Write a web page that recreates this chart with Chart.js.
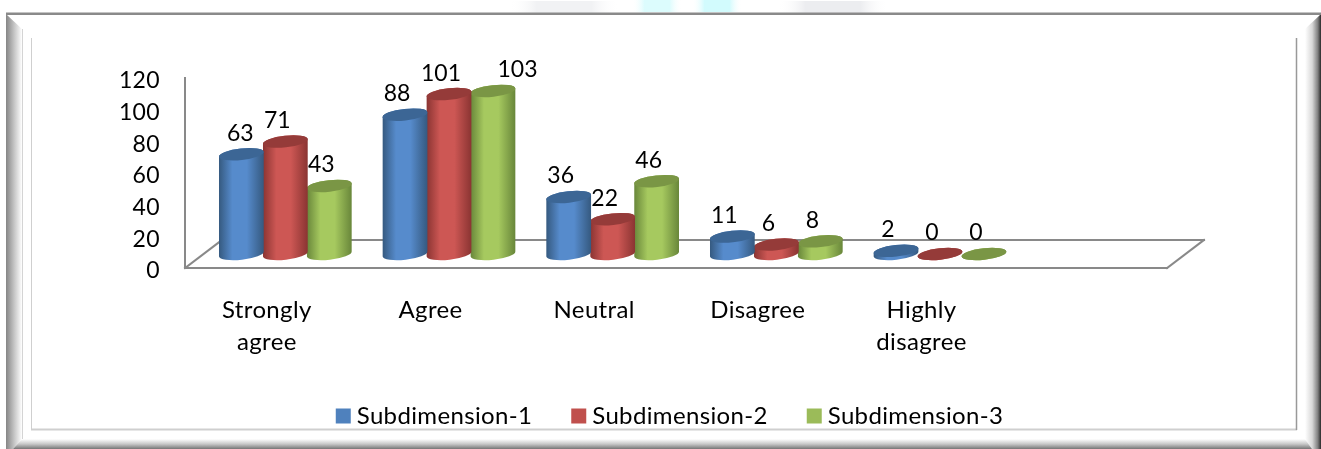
<!DOCTYPE html>
<html>
<head>
<meta charset="utf-8">
<style>
  html, body { margin: 0; padding: 0; background: #fff; }
  canvas { display: block; }
</style>
<script src="https://cdn.jsdelivr.net/npm/chart.js@4"></script>
</head>
<body>
<canvas id="myChart" width="1321" height="449"></canvas>
<script>
const categories = [["Strongly", "agree"], "Agree", "Neutral", "Disagree", ["Highly", "disagree"], ""];
const subdimension1 = [63, 88, 36, 11, 2, null];
const subdimension2 = [71, 101, 22, 6, 0, null];
const subdimension3 = [43, 103, 46, 8, 0, null];

const fontFamily = "Lato, 'Open Sans', sans-serif";
const axisGrey = "#898989";
const textSpacing = "0.35px";

// floor depth of the fake 3D box, bars stand in the middle of it
const depthX = 37;
const depthY = 28;

// side shading and top cap of each cylinder
const shades = {
  "#4f81bd": { edge: "#35597f", mid: "#568bcc", cap: "#3c6695" },
  "#c0504d": { edge: "#8a3432", mid: "#cd5754", cap: "#953b39" },
  "#9bbb59": { edge: "#68863a", mid: "#a6c95f", cap: "#7a9645" }
};

// value labels sit left of their bar, apart from a couple pushed clear by hand
const labelShift = -8;
const labelExtraShift = { "0,0": 7, "2,1": 32.5 };

// bars are drawn as cylinders instead of flat rectangles
Chart.BarElement.prototype.draw = function (ctx) {
  const rx = 22.5, ry = 5.8, tilt = -0.11;
  const cx = this.x + depthX / 2;
  const top = this.y - depthY / 2;
  const bottom = this.base - depthY / 2;
  const shade = shades[this.options.backgroundColor];

  ctx.save();
  const side = ctx.createLinearGradient(cx - rx, 0, cx + rx, 0);
  side.addColorStop(0, shade.edge);
  side.addColorStop(0.3, shade.mid);
  side.addColorStop(0.62, shade.mid);
  side.addColorStop(1, shade.edge);
  ctx.fillStyle = side;
  ctx.beginPath();
  ctx.ellipse(cx, bottom, rx, ry, tilt, 0, Math.PI);
  ctx.ellipse(cx, top, rx, ry, tilt, Math.PI, Math.PI * 2);
  ctx.closePath();
  ctx.fill();

  ctx.fillStyle = shade.cap;
  ctx.beginPath();
  ctx.ellipse(cx, top, rx, ry, tilt, 0, Math.PI * 2);
  ctx.fill();
  ctx.restore();
};

function polygon(ctx, points, fill) {
  ctx.fillStyle = fill;
  ctx.beginPath();
  points.forEach((p, i) => i ? ctx.lineTo(p[0], p[1]) : ctx.moveTo(p[0], p[1]));
  ctx.closePath();
  ctx.fill();
}

function line(ctx, x1, y1, x2, y2, color, width) {
  ctx.strokeStyle = color;
  ctx.lineWidth = width;
  ctx.beginPath();
  ctx.moveTo(x1, y1);
  ctx.lineTo(x2, y2);
  ctx.stroke();
}

// soft patch above the frame
function smudge(ctx, x, w, y, h, color) {
  const g = ctx.createLinearGradient(x, 0, x + w, 0);
  g.addColorStop(0, "rgba(255,255,255,0)");
  g.addColorStop(0.25, color);
  g.addColorStop(0.75, color);
  g.addColorStop(1, "rgba(255,255,255,0)");
  ctx.fillStyle = g;
  ctx.fillRect(x, y, w, h);
}

const framePlugin = {
  id: "frame",
  // axis and legend text is set a little wide
  beforeLayout(chart) {
    chart.ctx.letterSpacing = textSpacing;
  },
  // legend is centred under the whole frame, not under the plot
  afterLayout(chart) {
    const legend = chart.legend;
    legend.left += 89;
    legend.right += 89;
    legend.top -= 11;
    legend.bottom -= 11;
  },
  beforeDraw(chart) {
    const ctx = chart.ctx;
    ctx.letterSpacing = textSpacing;
    ctx.save();
    ctx.fillStyle = "#fff";
    ctx.fillRect(0, 0, chart.width, chart.height);

    smudge(ctx, 509, 110, 1, 12, "#f1f2f4");
    smudge(ctx, 778, 110, 1, 12, "#ecedf0");
    smudge(ctx, 632, 50, 0, 12, "#dcfcfd");
    smudge(ctx, 692, 50, 0, 12, "#d2fbfd");

    let g = ctx.createLinearGradient(6, 0, 22, 0);
    g.addColorStop(0, "#858585");
    g.addColorStop(0.5, "#c4c4c4");
    g.addColorStop(1, "#ffffff");
    polygon(ctx, [[6, 14], [22, 29], [22, 439], [13, 449], [6, 449]], g);

    g = ctx.createLinearGradient(1305, 0, 1321, 0);
    g.addColorStop(0, "#ffffff");
    g.addColorStop(0.45, "#d8d8d8");
    g.addColorStop(0.8, "#808080");
    g.addColorStop(1, "#2a2a2a");
    polygon(ctx, [[1321, 14], [1305, 29], [1305, 439], [1312, 449], [1321, 449]], g);

    g = ctx.createLinearGradient(0, 439, 0, 449);
    g.addColorStop(0, "#ffffff");
    g.addColorStop(0.5, "#c8c8c8");
    g.addColorStop(1, "#767676");
    polygon(ctx, [[13, 449], [22, 439], [1305, 439], [1312, 449]], g);

    line(ctx, 6, 13.75, 1321, 13.75, "#8a8a8a", 2.5);

    line(ctx, 22.5, 29, 22.5, 439, "#d4d4d4", 1);
    line(ctx, 31.5, 38, 31.5, 429, "#cfcfcf", 1);
    line(ctx, 31, 429.5, 1297, 429.5, "#cfcfcf", 2);
    line(ctx, 1296.5, 38, 1296.5, 430, "#999999", 1.5);
    ctx.restore();
  },
  // floor of the box, behind the bars
  beforeDatasetsDraw(chart) {
    const ctx = chart.ctx;
    const { left, right, bottom } = chart.chartArea;
    ctx.save();
    ctx.lineCap = "square";
    line(ctx, left, bottom, left + depthX, bottom - depthY, axisGrey, 2);
    line(ctx, left + depthX, bottom - depthY, right + depthX, bottom - depthY, axisGrey, 2);
    line(ctx, right, bottom, right + depthX, bottom - depthY, axisGrey, 2);
    ctx.restore();
  },
  afterDatasetsDraw(chart) {
    const ctx = chart.ctx;
    ctx.save();
    ctx.letterSpacing = "0px";
    ctx.fillStyle = "#000";
    ctx.font = "23px " + fontFamily;
    ctx.textAlign = "center";
    ctx.textBaseline = "middle";
    chart.data.datasets.forEach((dataset, d) => {
      chart.getDatasetMeta(d).data.forEach((bar, i) => {
        const value = dataset.data[i];
        if (value === null) return;
        const extra = labelExtraShift[d + "," + i] || 0;
        ctx.fillText(String(value), bar.x + depthX / 2 + labelShift + extra, bar.y - depthY / 2 - 21);
      });
    });
    ctx.restore();
  }
};

new Chart("myChart", {
  type: "bar",
  data: {
    labels: categories,
    datasets: [
      { label: "Subdimension-1", data: subdimension1, backgroundColor: "#4f81bd" },
      { label: "Subdimension-2", data: subdimension2, backgroundColor: "#c0504d" },
      { label: "Subdimension-3", data: subdimension3, backgroundColor: "#9bbb59" }
    ]
  },
  plugins: [framePlugin],
  options: {
    responsive: false,
    animation: false,
    layout: { padding: { left: 0, right: 154, top: 78, bottom: 0 } },
    datasets: { bar: { categoryPercentage: 0.806, barPercentage: 1 } },
    plugins: {
      tooltip: { enabled: false },
      title: { display: false },
      legend: {
        position: "bottom",
        labels: {
          color: "#000",
          font: { family: fontFamily, size: 24 },
          // small box plus a thick stroke keeps the text tight against the swatch
          boxWidth: 3,
          boxHeight: 3,
          padding: 45,
          generateLabels: chart => chart.data.datasets.map((dataset, i) => ({
            text: dataset.label,
            fillStyle: dataset.backgroundColor,
            strokeStyle: dataset.backgroundColor,
            lineWidth: 12,
            datasetIndex: i
          }))
        }
      }
    },
    scales: {
      x: {
        grid: { display: false },
        border: { color: axisGrey, width: 2 },
        ticks: {
          color: "#000",
          maxRotation: 0,
          autoSkip: false,
          padding: 18,
          font: { family: fontFamily, size: 24, lineHeight: 1.33 }
        },
        afterFit(scale) { scale.height = 102; }
      },
      y: {
        min: 0,
        max: 120,
        grid: { display: false, drawTicks: false },
        border: { color: axisGrey, width: 2 },
        ticks: {
          color: "#000",
          stepSize: 20,
          padding: 25,
          labelOffset: 3,
          font: { family: fontFamily, size: 23 }
        },
        afterFit(scale) { scale.width = 185; }
      }
    }
  }
});
</script>
</body>
</html>
